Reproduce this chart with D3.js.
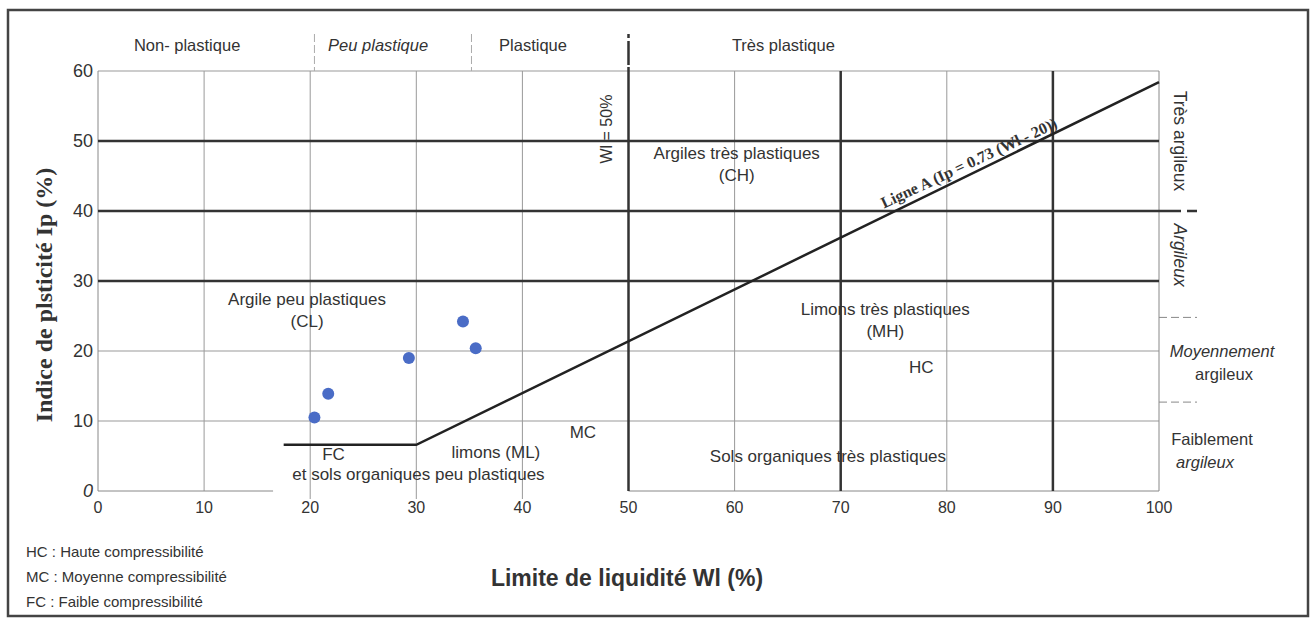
<!DOCTYPE html>
<html>
<head>
<meta charset="utf-8">
<script src="https://cdn.jsdelivr.net/npm/d3@7"></script>
<style>
  body { margin: 0; background: #fff; }
  svg { display: block; }
  text { font-family: "Liberation Sans", Arial, sans-serif; fill: #333; }
</style>
</head>
<body>
<svg id="chart"></svg>
<script>
// Diagramme de plasticité de Casagrande
const xTicks = [0, 10, 20, 30, 40, 50, 60, 70, 80, 90, 100];
const yTicks = [0, 10, 20, 30, 40, 50, 60];
const thinWl = [10, 20, 30, 40, 60, 80];
const thickWl = [50, 70, 90];
const thinIp = [10, 20];
const thickIp = [30, 40, 50];

// Ligne A + palier FC
const lineAWl = [17.5, 30, 100];
const lineAIp = [6.6, 6.6, 58.4];

// essais
const sampleWl = [20.4, 21.7, 29.3, 34.4, 35.6];
const sampleIp = [10.5, 13.9, 19.0, 24.2, 20.4];

// bandeau du haut
const headerLabels = ["Non- plastique", "Peu plastique", "Plastique", "Très plastique"];
const headerWl = [8.4, 26.4, 41, 64.6];
const headerItalic = [false, true, false, false];
const headerDividers = [20.4, 35.2];

// zones dans le diagramme
const zoneLines = [
  ["Argile peu plastiques", "(CL)"],
  ["FC"],
  ["et sols organiques peu plastiques"],
  ["limons (ML)"],
  ["MC"],
  ["Argiles très plastiques", "(CH)"],
  ["Limons très plastiques", "(MH)"],
  ["HC"],
  ["Sols organiques très plastiques"]
];
const zoneWl = [19.7, 22.2, 30.2, 37.5, 45.7, 60.2, 74.2, 77.6, 68.8];
const zoneIp = [26.6, 4.4, 1.6, 4.7, 7.6, 47.5, 25.1, 16.9, 4.1];

// classes d'argilosité (à droite)
const rightLabels = [["Très argileux"], ["Argileux"], ["Moyennement", "argileux"], ["Faiblement", "argileux"]];
const rightIp = [50, 33.7, 19.2, 6.6];
const rightRotated = [true, true, false, false];
const rightDashIp = [40, 24.8, 12.7];

const legendLines = ["HC : Haute compressibilité", "MC : Moyenne compressibilité", "FC : Faible compressibilité"];

const width = 1314, height = 619;
const svg = d3.select("#chart").attr("width", width).attr("height", height);

const x = d3.scaleLinear().domain([0, 100]).range([98, 1159]);
const y = d3.scaleLinear().domain([0, 60]).range([491, 71]);

// cadre
svg.append("rect")
  .attr("x", 8).attr("y", 10).attr("width", 1300).attr("height", 606)
  .attr("fill", "none").attr("stroke", "#444").attr("stroke-width", 2.5);

// grille fine
svg.append("g").selectAll("line").data(thinWl).join("line")
  .attr("x1", d => x(d)).attr("x2", d => x(d))
  .attr("y1", y(60)).attr("y2", d => d >= 20 && d <= 40 ? y(0) + 8 : y(0))
  .attr("stroke", "#999").attr("stroke-width", 1);

svg.append("g").selectAll("line").data(thinIp.concat([60])).join("line")
  .attr("x1", x(0)).attr("x2", x(100))
  .attr("y1", d => y(d)).attr("y2", d => y(d))
  .attr("stroke", "#999").attr("stroke-width", 1);

// axes gauche / droit
svg.append("line").attr("x1", x(0)).attr("x2", x(0)).attr("y1", y(0)).attr("y2", y(60))
  .attr("stroke", "#888").attr("stroke-width", 1);
svg.append("line").attr("x1", x(100)).attr("x2", x(100)).attr("y1", y(0)).attr("y2", y(60))
  .attr("stroke", "#888").attr("stroke-width", 1);
// axe bas (interrompu)
[[0, 16.5], [50, 100]].forEach(seg => {
  svg.append("line").attr("x1", x(seg[0])).attr("x2", x(seg[1]))
    .attr("y1", y(0)).attr("y2", y(0))
    .attr("stroke", "#888").attr("stroke-width", 1);
});

// lignes épaisses
svg.append("g").selectAll("line").data(thickIp).join("line")
  .attr("x1", x(0)).attr("x2", x(100))
  .attr("y1", d => y(d)).attr("y2", d => y(d))
  .attr("stroke", "#333").attr("stroke-width", 2.5);

svg.append("g").selectAll("line").data(thickWl).join("line")
  .attr("x1", d => x(d)).attr("x2", d => x(d))
  .attr("y1", y(60)).attr("y2", y(0))
  .attr("stroke", "#333").attr("stroke-width", 2.5);

// Wl = 50 prolongée dans le bandeau
svg.append("line").attr("x1", x(50)).attr("x2", x(50)).attr("y1", 34).attr("y2", y(60))
  .attr("stroke", "#333").attr("stroke-width", 2.5).attr("stroke-dasharray", "4 3 24 2");

// séparateurs du bandeau
svg.append("g").selectAll("line").data(headerDividers).join("line")
  .attr("x1", d => x(d)).attr("x2", d => x(d))
  .attr("y1", 34).attr("y2", y(60))
  .attr("stroke", "#aaa").attr("stroke-width", 1).attr("stroke-dasharray", "8 3");

svg.append("g").selectAll("text").data(headerLabels).join("text")
  .attr("x", (d, i) => x(headerWl[i])).attr("y", 51)
  .attr("text-anchor", "middle").attr("font-size", "16.5px")
  .attr("font-style", (d, i) => headerItalic[i] ? "italic" : "normal")
  .text(d => d);

// graduations
svg.append("g").selectAll("text").data(xTicks).join("text")
  .attr("x", d => x(d)).attr("y", 513)
  .attr("text-anchor", "middle").attr("font-size", "16px").attr("fill", "#444")
  .text(d => d);

svg.append("g").selectAll("text").data(yTicks).join("text")
  .attr("x", 93).attr("y", d => y(d) + 6)
  .attr("text-anchor", "end").attr("font-size", "18px").attr("fill", "#444")
  .attr("font-style", d => d === 0 ? "italic" : "normal")
  .text(d => d);

// titres d'axes
svg.append("text")
  .attr("transform", `translate(52,${(y(0) + y(60)) / 2 + 14}) rotate(-90)`)
  .attr("text-anchor", "middle")
  .style("font-family", "'Liberation Serif', 'Times New Roman', serif")
  .attr("font-weight", "bold").attr("font-size", "24px").attr("fill", "#222")
  .text("Indice de plsticité Ip (%)");

svg.append("text")
  .attr("x", 627).attr("y", 586)
  .attr("text-anchor", "middle").attr("font-weight", "bold").attr("font-size", "23px").attr("fill", "#222")
  .text("Limite de liquidité Wl (%)");

// Ligne A
const lineA = d3.line().x((d, i) => x(lineAWl[i])).y((d, i) => y(lineAIp[i]));
svg.append("path").datum(lineAWl)
  .attr("d", lineA)
  .attr("fill", "none").attr("stroke", "#222").attr("stroke-width", 2.5);

const slopeAngle = Math.atan2(y(lineAIp[1]) - y(lineAIp[2]), x(lineAWl[2]) - x(lineAWl[1])) * 180 / Math.PI;
const labelWl = 82.3;
const labelIp = lineAIp[1] + (lineAIp[2] - lineAIp[1]) * (labelWl - lineAWl[1]) / (lineAWl[2] - lineAWl[1]);
svg.append("text")
  .attr("transform", `translate(${x(labelWl)},${y(labelIp) - 6}) rotate(${-slopeAngle + 1})`)
  .attr("text-anchor", "middle")
  .style("font-family", "'Liberation Serif', 'Times New Roman', serif")
  .attr("font-weight", "bold").attr("font-size", "16px").attr("fill", "#333")
  .text("Ligne A (Ip = 0.73 (Wl - 20))");

// Wl = 50%
svg.append("text")
  .attr("transform", `translate(${x(50) - 17},${y(51.7)}) rotate(-90)`)
  .attr("text-anchor", "middle").attr("font-size", "16px")
  .text("Wl = 50%");

// libellés de zones
const zones = svg.append("g").selectAll("text").data(zoneLines).join("text")
  .attr("text-anchor", "middle").attr("font-size", "17px")
  .attr("x", (d, i) => x(zoneWl[i])).attr("y", (d, i) => y(zoneIp[i]));
zones.selectAll("tspan").data(d => d).join("tspan")
  .attr("x", function () { return d3.select(this.parentNode).attr("x"); })
  .attr("dy", (d, j) => j === 0 ? 0 : 22)
  .text(d => d);

// classes à droite
svg.append("g").selectAll("line").data(rightDashIp).join("line")
  .attr("x1", x(100)).attr("x2", x(100) + 38)
  .attr("y1", d => y(d)).attr("y2", d => y(d))
  .attr("stroke", d => d === 40 ? "#333" : "#888")
  .attr("stroke-width", d => d === 40 ? 2.5 : 1)
  .attr("stroke-dasharray", d => d === 40 ? "22 6 6 0" : "8 4");

rightLabels.forEach((lines, i) => {
  if (rightRotated[i]) {
    svg.append("text")
      .attr("transform", `translate(${x(100) + 15},${y(rightIp[i])}) rotate(90)`)
      .attr("text-anchor", "middle").attr("font-size", "17.5px")
      .attr("font-style", i === 1 ? "italic" : "normal")
      .text(lines[0]);
  } else {
    const t = svg.append("text")
      .attr("x", i === 2 ? 1222 : 1212).attr("y", y(rightIp[i]))
      .attr("text-anchor", "middle").attr("font-size", "16.5px");
    t.selectAll("tspan").data(lines).join("tspan")
      .attr("x", (d, j) => i === 2 ? 1222 + (j ? 2 : 0) : 1212 - (j ? 7 : 0))
      .attr("dy", (d, j) => j ? 23 : 0)
      .attr("font-style", (d, j) => (i === 2 && j === 0) || (i === 3 && j === 1) ? "italic" : "normal")
      .text(d => d);
  }
});

// points d'essai
svg.append("g").selectAll("circle").data(sampleWl).join("circle")
  .attr("cx", d => x(d)).attr("cy", (d, i) => y(sampleIp[i]))
  .attr("r", 6).attr("fill", "#4a6cc6");

// légende
svg.append("g").selectAll("text").data(legendLines).join("text")
  .attr("x", 26).attr("y", (d, i) => 557 + i * 25)
  .attr("font-size", "15px")
  .text(d => d);
</script>
</body>
</html>
